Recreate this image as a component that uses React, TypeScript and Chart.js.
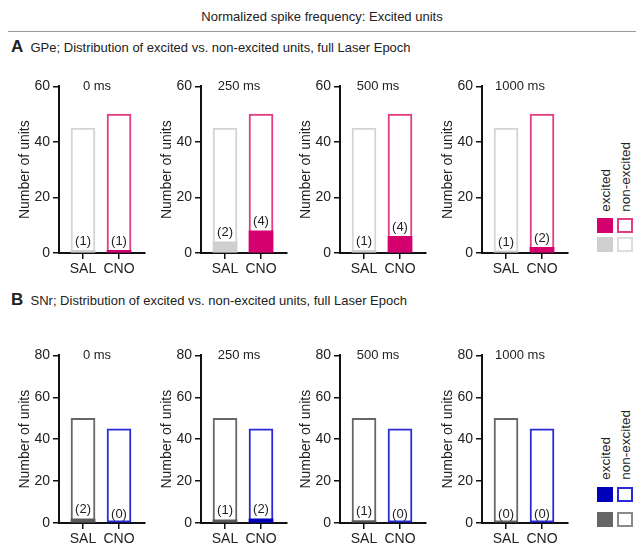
import React, { useEffect, useRef } from 'react';
import { Chart, registerables } from 'chart.js';

Chart.register(...registerables);

const categories = ['SAL', 'CNO'];
const epochs = ['0 ms', '250 ms', '500 ms', '1000 ms'];

const gpeTotals = [45, 50];
const gpeExcitedHeights = [[1, 1], [4, 8], [1, 6], [0.5, 2]];
const gpeExcitedCounts = [[1, 1], [2, 4], [1, 4], [1, 2]];
const gpeTicks = [0, 20, 40, 60];

const snrTotals = [50, 45];
const snrExcitedHeights = [[2, 0], [1.5, 2], [1, 0], [0, 0]];
const snrExcitedCounts = [[2, 0], [1, 2], [1, 0], [0, 0]];
const snrTicks = [0, 20, 40, 60, 80];

const FONT = '"Liberation Sans", Arial, sans-serif';
const TEXT = '#222';
const AXIS = '#111';

const axisXs = [59, 201, 340, 482];
const Y_AXIS_W = 45;
const PLOT_W = 86;
const PAD_TOP = 10;
const PAD_RIGHT = 4;
const X_AXIS_H = 28;

type MiniProps = {
  left: number;
  plotTop: number;
  plotBottom: number;
  title: string;
  totals: number[];
  heights: number[];
  counts: number[];
  ticks: number[];
  outline: string[];
  fill: string[];
};

function MiniBar(p: MiniProps) {
  const ref = useRef<HTMLCanvasElement>(null);
  const width = Y_AXIS_W + PLOT_W + PAD_RIGHT;
  const height = PAD_TOP + (p.plotBottom - p.plotTop) + X_AXIS_H;
  useEffect(() => {
    const annot = {
      id: 'annot',
      afterDatasetsDraw(chart: any) {
        const ctx = chart.ctx;
        const meta = chart.getDatasetMeta(0);
        ctx.save();
        ctx.font = `13px ${FONT}`;
        ctx.fillStyle = TEXT;
        ctx.textAlign = 'center';
        ctx.textBaseline = 'middle';
        meta.data.forEach((el: any, i: number) => {
          ctx.fillText(`(${p.counts[i]})`, el.x, el.y - 9);
        });
        const ca = chart.chartArea;
        ctx.fillText(p.title, (ca.left + ca.right) / 2 - 5, ca.top);
        ctx.restore();
      },
    };
    const chart = new Chart(ref.current!, {
      type: 'bar',
      data: {
        datasets: [
          {
            data: p.heights.map((v, i) => ({ x: i, y: v })),
            backgroundColor: p.fill,
            borderWidth: 0,
            order: 0,
            grouped: false,
            barThickness: 24,
          } as any,
          {
            data: p.totals.map((v, i) => ({ x: i, y: v })),
            backgroundColor: '#ffffff',
            borderColor: p.outline,
            borderWidth: 2,
            borderSkipped: false,
            order: 1,
            grouped: false,
            barThickness: 24,
          } as any,
        ],
      },
      options: {
        animation: false,
        responsive: false,
        maintainAspectRatio: false,
        events: [],
        layout: { padding: { top: PAD_TOP, right: PAD_RIGHT, left: 0, bottom: 0 } },
        plugins: { legend: { display: false }, tooltip: { enabled: false }, title: { display: false } },
        scales: {
          x: {
            type: 'linear',
            offset: false,
            min: -0.667,
            max: 1.722,
            afterBuildTicks: (s: any) => {
              s.ticks = categories.map((_, i) => ({ value: i }));
            },
            afterFit: (s: any) => {
              s.height = X_AXIS_H;
            },
            ticks: {
              callback: (v: any) => categories[Number(v)] ?? '',
              font: { family: FONT, size: 14 },
              color: TEXT,
              padding: 2,
              autoSkip: false,
              maxRotation: 0,
            },
            grid: { offset: false, drawOnChartArea: false, drawTicks: true, tickLength: 6, color: AXIS, lineWidth: 1.5 },
            border: { color: AXIS, width: 2 },
          },
          y: {
            min: 0,
            max: p.ticks[p.ticks.length - 1],
            afterBuildTicks: (s: any) => {
              s.ticks = p.ticks.map((v) => ({ value: v }));
            },
            afterFit: (s: any) => {
              s.width = Y_AXIS_W;
            },
            ticks: {
              font: { family: FONT, size: 14 },
              color: TEXT,
              padding: 3,
            },
            grid: { drawOnChartArea: false, drawTicks: true, tickLength: 6, color: AXIS, lineWidth: 1.5 },
            border: { color: AXIS, width: 2 },
            title: {
              display: true,
              text: 'Number of units',
              font: { family: FONT, size: 14 },
              color: TEXT,
              padding: { top: 3, bottom: 2 },
            },
          },
        },
      } as any,
      plugins: [annot],
    });
    return () => chart.destroy();
  }, []);
  return (
    <canvas
      ref={ref}
      width={width}
      height={height}
      style={{
        position: 'absolute',
        left: p.left - Y_AXIS_W,
        top: p.plotTop - PAD_TOP,
        width,
        height,
      }}
    />
  );
}

function Legend(props: { textBottom: number; row1Top: number; row2Top: number; c1: string[]; c2: string[] }) {
  const sq = (left: number, top: number, fill: string | null, border: string) => (
    <div
      style={{
        position: 'absolute',
        left,
        top,
        width: fill ? 16 : 12,
        height: fill ? 15 : 11,
        background: fill ?? '#fff',
        border: fill ? 'none' : `2px solid ${border}`,
      }}
    />
  );
  const vtext = (cx: number, text: string) => (
    <div
      style={{
        position: 'absolute',
        left: cx - 8,
        bottom: 546 - props.textBottom,
        width: 16,
        writingMode: 'vertical-rl',
        transform: 'rotate(180deg)',
        fontSize: 13.5,
        lineHeight: '16px',
        color: TEXT,
        fontFamily: FONT,
        whiteSpace: 'nowrap',
      }}
    >
      {text}
    </div>
  );
  return (
    <>
      {vtext(606, 'excited')}
      {vtext(626, 'non-excited')}
      {sq(597, props.row1Top, props.c1[0], props.c1[0])}
      {sq(617, props.row1Top, null, props.c1[1])}
      {sq(597, props.row2Top, props.c2[0], props.c2[0])}
      {sq(617, props.row2Top, null, props.c2[1])}
    </>
  );
}

export default function App() {
  const gpeOutline = ['#d4d4d4', '#e23c82'];
  const gpeFill = ['#cfcfcf', '#d4006e'];
  const snrOutline = ['#666666', '#2a2ad8'];
  const snrFill = ['#5a5a5a', '#0000bb'];
  return (
    <div
      style={{
        position: 'fixed',
        left: 0,
        top: 0,
        width: 644,
        height: 546,
        background: '#fff',
        fontFamily: FONT,
        color: TEXT,
        overflow: 'hidden',
      }}
    >
      <div style={{ position: 'absolute', left: 0, top: 9, width: 644, textAlign: 'center', fontSize: 13, lineHeight: '16px' }}>
        Normalized spike frequency: Excited units
      </div>
      <div style={{ position: 'absolute', left: 8, top: 31, width: 628, borderTop: '1.5px solid #999' }} />
      <div style={{ position: 'absolute', left: 11, top: 37, fontSize: 13, lineHeight: '20px', whiteSpace: 'nowrap' }}>
        <b style={{ fontSize: 17 }}>A</b>&nbsp; GPe; Distribution of excited vs. non-excited units, full Laser Epoch
      </div>
      <div style={{ position: 'absolute', left: 11, top: 290, fontSize: 13, lineHeight: '20px', whiteSpace: 'nowrap' }}>
        <b style={{ fontSize: 17 }}>B</b>&nbsp; SNr; Distribution of excited vs. non-excited units, full Laser Epoch
      </div>
      {epochs.map((t, i) => (
        <MiniBar
          key={'a' + i}
          left={axisXs[i]}
          plotTop={85}
          plotBottom={253}
          title={t}
          totals={gpeTotals}
          heights={gpeExcitedHeights[i]}
          counts={gpeExcitedCounts[i]}
          ticks={gpeTicks}
          outline={gpeOutline}
          fill={gpeFill}
        />
      ))}
      {epochs.map((t, i) => (
        <MiniBar
          key={'b' + i}
          left={axisXs[i]}
          plotTop={354}
          plotBottom={523}
          title={t}
          totals={snrTotals}
          heights={snrExcitedHeights[i]}
          counts={snrExcitedCounts[i]}
          ticks={snrTicks}
          outline={snrOutline}
          fill={snrFill}
        />
      ))}
      <Legend textBottom={212} row1Top={218} row2Top={237} c1={['#d4006e', '#e23c82']} c2={['#cfcfcf', '#dddddd']} />
      <Legend textBottom={480} row1Top={487} row2Top={512} c1={['#0000bb', '#2a2ad8']} c2={['#666666', '#8a8a8a']} />
    </div>
  );
}
